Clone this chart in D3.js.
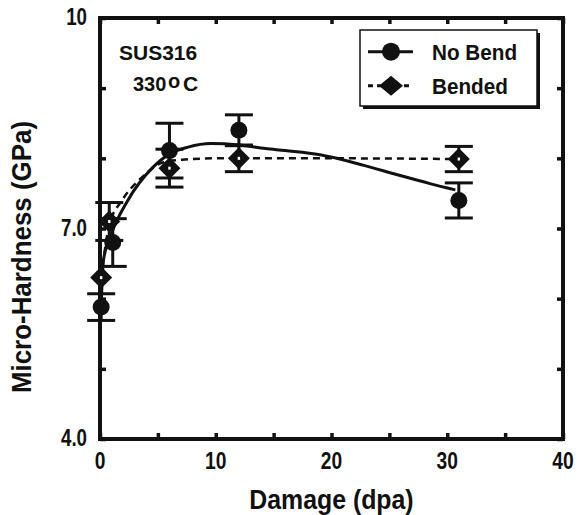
<!DOCTYPE html>
<html>
<head>
<meta charset="utf-8">
<script src="https://cdn.jsdelivr.net/npm/d3@7"></script>
<style>
  body { margin: 0; background: #fff; }
  text { font-family: "Liberation Sans", Arial, sans-serif; font-weight: bold; fill: #111; }
</style>
</head>
<body>
<svg id="chart" width="578" height="515"></svg>
<script>
// measured points
const noBendX = [0.1, 1.1, 6.0, 12.0, 31.0];
const noBendY = [5.88, 6.80, 8.11, 8.40, 7.40];
const noBendErr = [0.19, 0.34, 0.39, 0.22, 0.25];

const bendedX = [0.1, 0.8, 6.0, 12.0, 31.0];
const bendedY = [6.30, 7.10, 7.86, 8.00, 7.99];
const bendedErr = [0, 0.27, 0.27, 0.19, 0.18];

// fitted curves
const noBendFitX = [0.1, 0.3, 1.0, 2.4, 4.5, 6.1, 7.6, 9.6, 12.0, 14.3, 16.0, 19.0, 22.8, 25.6, 28.5, 30.7];
const noBendFitY = [5.90, 6.55, 6.93, 7.40, 7.86, 8.07, 8.16, 8.21, 8.19, 8.14, 8.11, 8.05, 7.90, 7.77, 7.64, 7.55];

const bendedFitX = [0.1, 0.8, 1.9, 3.5, 5.6, 7.1, 10, 20, 31];
const bendedFitY = [6.30, 7.05, 7.40, 7.71, 7.95, 7.98, 8.00, 8.00, 7.99];

const xTicks = [0, 10, 20, 30, 40];
const xMinor = [0, 5, 10, 15, 20, 25, 30, 35, 40];
const yTicks = [4, 7, 10];
const yTickLabels = ['4.0', '7.0', '10'];
const yMinor = [4, 5, 6, 7, 8, 9, 10];

const legendLabels = ['No Bend', 'Bended'];

const ink = '#111';
const margin = { top: 18, right: 15, bottom: 76, left: 100 };
const width = 578 - margin.left - margin.right;
const height = 515 - margin.top - margin.bottom;

const svg = d3.select('#chart');

const x = d3.scaleLinear().domain([0, 40]).range([0, width]);
const y = d3.scaleLinear().domain([4, 10]).range([height, 0]);

const g = svg.append('g')
    .attr('transform', `translate(${margin.left}, ${margin.top})`);

// squeeze text to the narrow look of the original
function squeeze(sel, k) {
  sel.each(function() {
    const w = this.getComputedTextLength();
    d3.select(this)
        .attr('textLength', w * k)
        .attr('lengthAdjust', 'spacingAndGlyphs');
  });
}

// axes with inward ticks on all four sides
const tickLen = 6;
g.append('g')
    .attr('transform', `translate(0, ${height})`)
    .call(d3.axisBottom(x).tickValues(xMinor).tickSize(-tickLen).tickFormat(''))
    .call(a => a.select('.domain').remove());
g.append('g')
    .call(d3.axisTop(x).tickValues(xMinor).tickSize(-tickLen).tickFormat(''))
    .call(a => a.select('.domain').remove());
g.append('g')
    .call(d3.axisLeft(y).tickValues(yMinor).tickSize(-tickLen).tickFormat(''))
    .call(a => a.select('.domain').remove());
g.append('g')
    .attr('transform', `translate(${width}, 0)`)
    .call(d3.axisRight(y).tickValues(yMinor).tickSize(-tickLen).tickFormat(''))
    .call(a => a.select('.domain').remove());
g.selectAll('.tick line')
    .attr('stroke', ink)
    .attr('stroke-width', 3.5);

g.append('rect')
    .attr('width', width)
    .attr('height', height)
    .attr('fill', 'none')
    .attr('stroke', ink)
    .attr('stroke-width', 4);

// tick labels
g.selectAll('.xlab')
  .data(xTicks)
  .join('text')
    .attr('class', 'xlab')
    .attr('x', d => x(d))
    .attr('y', height + 30)
    .attr('text-anchor', 'middle')
    .style('font-size', '24px')
    .text(d => d)
    .call(squeeze, 0.8);

g.selectAll('.ylab')
  .data(yTicks)
  .join('text')
    .attr('class', 'ylab')
    .attr('x', -13)
    .attr('y', d => y(d) + 7)
    .attr('text-anchor', 'end')
    .style('font-size', '24px')
    .text((d, i) => yTickLabels[i])
    .call(squeeze, 0.78);

// axis titles
svg.append('text')
    .attr('x', margin.left + width / 2)
    .attr('y', 509)
    .attr('text-anchor', 'middle')
    .style('font-size', '27px')
    .text('Damage (dpa)')
    .call(squeeze, 0.92);

svg.append('text')
    .attr('transform', 'translate(31, 257) rotate(-90)')
    .attr('text-anchor', 'middle')
    .style('font-size', '27px')
    .text('Micro-Hardness (GPa)')
    .call(squeeze, 0.96);

// annotation
g.append('text')
    .attr('x', 19)
    .attr('y', 42)
    .style('font-size', '21px')
    .text('SUS316');
g.append('text')
    .attr('x', 33)
    .attr('y', 73)
    .style('font-size', '20px')
    .text('330');
g.append('text')
    .attr('x', 68)
    .attr('y', 70)
    .style('font-size', '20px')
    .text('o');
g.append('text')
    .attr('x', 83)
    .attr('y', 73)
    .style('font-size', '21px')
    .text('C');

// fitted curves
const line = d3.line()
    .x(d => x(d[0]))
    .y(d => y(d[1]))
    .curve(d3.curveMonotoneX);

g.append('path')
    .datum(noBendFitX.map((v, i) => [v, noBendFitY[i]]))
    .attr('d', line)
    .attr('fill', 'none')
    .attr('stroke', ink)
    .attr('stroke-width', 3);

g.append('path')
    .datum(bendedFitX.map((v, i) => [v, bendedFitY[i]]))
    .attr('d', line)
    .attr('fill', 'none')
    .attr('stroke', ink)
    .attr('stroke-width', 2.5)
    .attr('stroke-dasharray', '7,5');

// error bars
const capHalf = 14;
function errorBars(xs, ys, es) {
  const data = xs.map((v, i) => ({ x: v, y: ys[i], e: es[i] })).filter(d => d.e > 0);
  const eb = g.append('g')
      .attr('stroke', ink)
      .attr('stroke-width', 3);
  eb.selectAll('.stem')
    .data(data)
    .join('line')
      .attr('x1', d => x(d.x))
      .attr('x2', d => x(d.x))
      .attr('y1', d => y(d.y - d.e))
      .attr('y2', d => y(d.y + d.e));
  eb.selectAll('.cap')
    .data(data.flatMap(d => [d.y - d.e, d.y + d.e].map(v => ({ x: d.x, v }))))
    .join('line')
      .attr('x1', d => x(d.x) - capHalf)
      .attr('x2', d => x(d.x) + capHalf)
      .attr('y1', d => y(d.v))
      .attr('y2', d => y(d.v));
}
errorBars(noBendX, noBendY, noBendErr);
errorBars(bendedX, bendedY, bendedErr);

// markers
const diamond = 'M0,-11L11,0L0,11L-11,0Z';
function drawDiamond(sel) {
  sel.append('path').attr('d', diamond).attr('fill', ink);
  sel.append('rect').attr('x', -1.2).attr('y', -1.5).attr('width', 2.4).attr('height', 3).attr('fill', '#fff');
}

g.selectAll('.bended')
  .data(bendedX.map((v, i) => [v, bendedY[i]]))
  .join('g')
    .attr('class', 'bended')
    .attr('transform', d => `translate(${x(d[0])}, ${y(d[1])})`)
    .call(drawDiamond);

g.selectAll('.nobend')
  .data(noBendX.map((v, i) => [v, noBendY[i]]))
  .join('circle')
    .attr('class', 'nobend')
    .attr('cx', d => x(d[0]))
    .attr('cy', d => y(d[1]))
    .attr('r', 8.5)
    .attr('fill', ink);

// legend
const legend = svg.append('g')
    .attr('transform', 'translate(360, 30)');
legend.append('rect')
    .attr('x', 3)
    .attr('y', 3)
    .attr('width', 177)
    .attr('height', 76)
    .attr('fill', ink);
legend.append('rect')
    .attr('width', 177)
    .attr('height', 76)
    .attr('fill', '#fff')
    .attr('stroke', ink)
    .attr('stroke-width', 1.5);

const items = legend.selectAll('.item')
  .data(legendLabels)
  .join('g')
    .attr('class', 'item')
    .attr('transform', (d, i) => `translate(0, ${21.7 + i * 34})`);

items.append('line')
    .attr('x1', 8)
    .attr('x2', 53)
    .attr('stroke', ink)
    .attr('stroke-width', 3)
    .attr('stroke-dasharray', (d, i) => i ? '5,4' : null);

items.filter((d, i) => i === 0)
  .append('circle')
    .attr('cx', 31)
    .attr('r', 9)
    .attr('fill', ink);

items.filter((d, i) => i === 1)
  .append('path')
    .attr('transform', 'translate(31, 0)')
    .attr('d', 'M0,-10L12,0L0,10L-12,0Z')
    .attr('fill', ink);

items.append('text')
    .attr('x', 72)
    .attr('y', 8)
    .style('font-size', '22px')
    .text(d => d)
    .call(squeeze, 0.94);
</script>
</body>
</html>
